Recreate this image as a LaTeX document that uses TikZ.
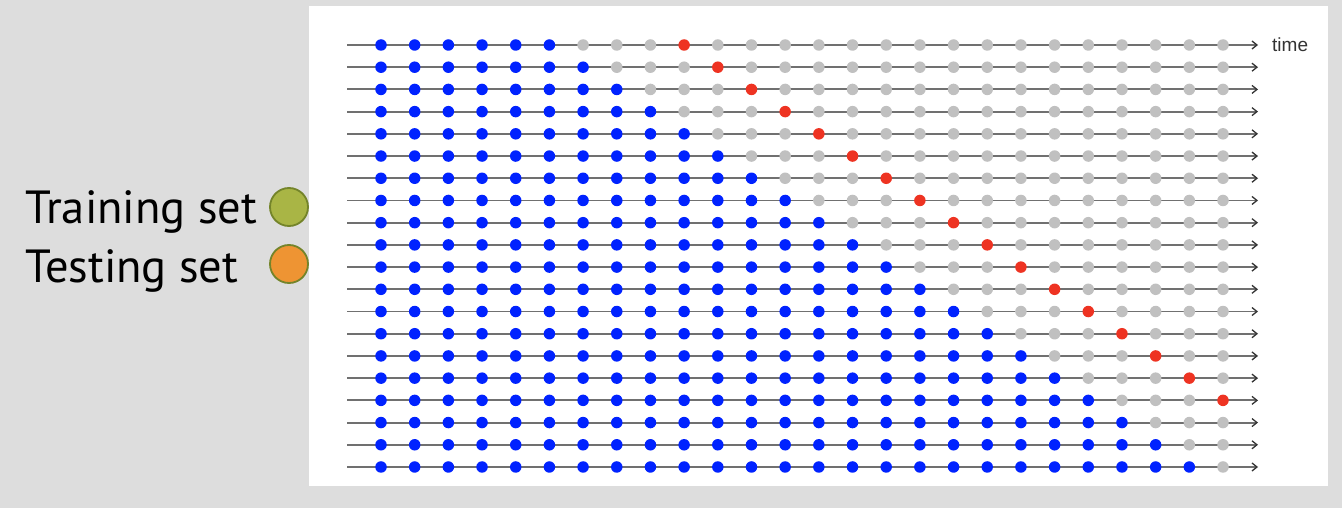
\documentclass[tikz,border=0pt]{standalone}
\usepackage{fontspec}
\setmainfont{PT Sans}
\newfontfamily\plotfont{Liberation Sans}
\usetikzlibrary{arrows.meta,positioning}
\definecolor{backdrop}{HTML}{DDDDDD}
\definecolor{train}{HTML}{0022FF}
\definecolor{future}{HTML}{C0C0C0}
\definecolor{test}{HTML}{EE3322}
\definecolor{olive}{HTML}{A9B545}
\definecolor{oliverim}{HTML}{74842A}
\definecolor{amber}{HTML}{EE9433}
\definecolor{track}{HTML}{707070}
\definecolor{ink}{HTML}{333333}

\begin{document}
\begin{tikzpicture}[x=1pt,y=-1pt,dot/.style={circle,inner sep=0pt,minimum size=11.5pt},axis/.style={track,line width=1.9pt,-{Straight Barb[length=5pt,width=8pt,line width=1.3pt,color=ink]}},swatch/.style={circle,draw=oliverim,line width=1.8pt,minimum size=38pt,inner sep=0pt},legend/.style={inner sep=0pt,anchor=base west,font=\fontsize{46.5}{50}\selectfont}]
 \useasboundingbox (0,0) rectangle (1342,508);
 \fill[backdrop] (0,0) rectangle (1342,508);
 \fill[white] (309,6) rectangle (1328,486);
 \foreach \r in {1,...,20}{
  \coordinate (s\r) at (347,{45+(\r-1)*22.21});
  \coordinate (e\r) at (1258,{45+(\r-1)*22.21});
  \draw[axis] (s\r) -- (e\r);
  \foreach \c in {1,...,26}{
   \ifnum\c<\numexpr\r+6\relax \def\tone{train}\else\ifnum\c=\numexpr\r+9\relax \def\tone{test}\else\def\tone{future}\fi\fi
   \node[dot,fill=\tone] (d\r-\c) at ({381+(\c-1)*33.68},{45+(\r-1)*22.21}) {};
  }
 }
 \node[right=14pt of e1,inner sep=0pt,font=\plotfont\fontsize{19}{22}\selectfont,text=ink] (timelbl) {time};
 \node[legend] (trainlbl) at (25,223) {Training set};
 \node[legend] (testlbl) at (25,282) {Testing set};
 \node[swatch,fill=olive] (trainsw) at (289,207) {};
 \node[swatch,fill=amber] (testsw) at (289,264) {};
\end{tikzpicture}
\end{document}
